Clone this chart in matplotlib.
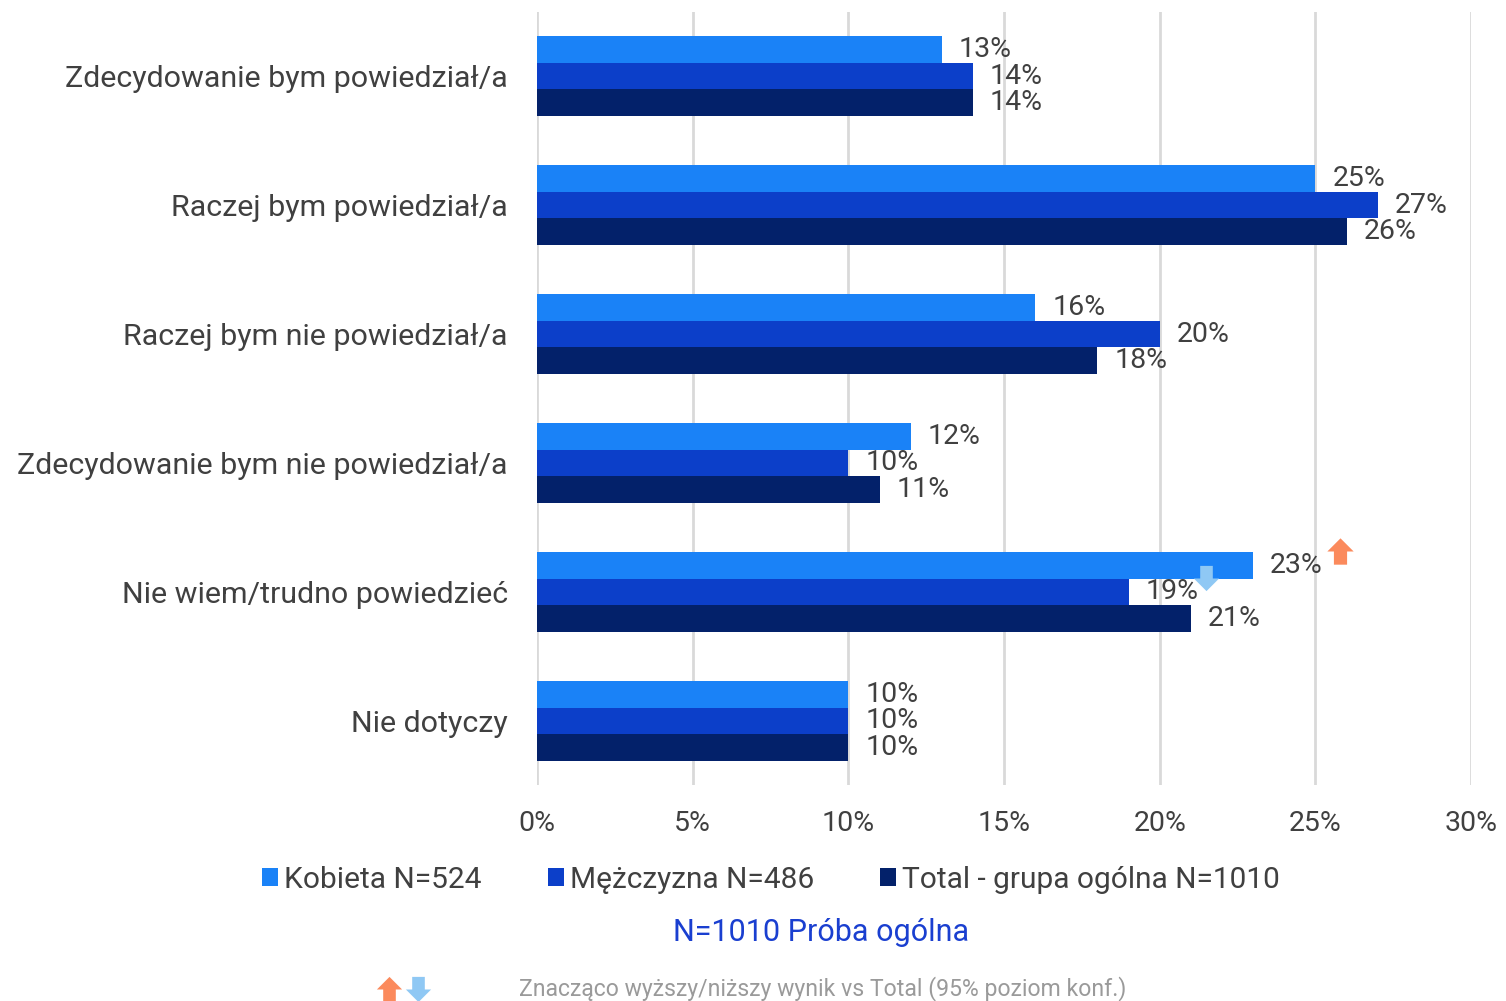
import matplotlib.pyplot as plt
from matplotlib.path import Path
from matplotlib.ticker import FuncFormatter

plt.rcParams["font.family"] = ["Roboto", "DejaVu Sans"]

categories = [
    "Zdecydowanie bym powiedział/a",
    "Raczej bym powiedział/a",
    "Raczej bym nie powiedział/a",
    "Zdecydowanie bym nie powiedział/a",
    "Nie wiem/trudno powiedzieć",
    "Nie dotyczy",
]
series_names = ["Kobieta N=524", "Mężczyzna N=486", "Total - grupa ogólna N=1010"]
kobieta = [13, 25, 16, 12, 23, 10]
mezczyzna = [14, 27, 20, 10, 19, 10]
total = [14, 26, 18, 11, 21, 10]
# (category index, series index, direction) of significant differences vs Total
significance = [(4, 0, "up"), (4, 1, "down")]

colors = ["#1a82f7", "#0c3fc9", "#03216a"]
arrow_colors = {"up": "#fb8a5c", "down": "#8fc8f4"}
label_gray = "#404040"

UP_ARROW = Path(
    [(-0.25, -0.5), (0.25, -0.5), (0.25, 0.0), (0.5, 0.0), (0.0, 0.5),
     (-0.5, 0.0), (-0.25, 0.0), (-0.25, -0.5)],
    [Path.MOVETO] + [Path.LINETO] * 6 + [Path.CLOSEPOLY],
)
DOWN_ARROW = Path(
    [(x, -y) for x, y in UP_ARROW.vertices],
    UP_ARROW.codes,
)

fig = plt.figure(figsize=(15.06, 10.01), dpi=100)
ax = fig.add_axes([0.3566, 0.2153, 0.6202, 0.7732])

values = [kobieta, mezczyzna, total]
bar_h = 0.209
ypos = list(range(len(categories)))
for i, (name, vals) in enumerate(zip(series_names, values)):
    ys = [y + (i - 1) * bar_h for y in ypos]
    ax.barh(ys, vals, height=bar_h, color=colors[i], label=name, zorder=3)
    for y, v in zip(ys, vals):
        ax.text(v + 0.55, y, f"{v}%", va="center", ha="left",
                fontsize=20.5, color=label_gray, zorder=4)

for cat, s, direction in significance:
    v = values[s][cat]
    y = cat + (s - 1) * bar_h
    if direction == "up":
        ax.scatter([v + 2.8], [y - 0.11], marker=UP_ARROW, s=360,
                   color=arrow_colors["up"], zorder=5, linewidths=0)
    else:
        ax.scatter([v + 2.5], [y - 0.11], marker=DOWN_ARROW, s=330,
                   color=arrow_colors["down"], zorder=5, linewidths=0)

ax.set_xlim(0, 30)
ax.set_ylim(len(categories) - 0.5, -0.5)
ax.set_xticks(range(0, 31, 5))
ax.xaxis.set_major_formatter(FuncFormatter(lambda x, _: f"{int(x)}%"))
ax.set_yticks(ypos)
ax.set_yticklabels(categories, fontsize=21.9, color="#404040")
ax.tick_params(axis="x", labelsize=20.5, colors="#404040", length=0, pad=18)
ax.tick_params(axis="y", length=0, pad=21)
ax.grid(axis="x", color="#d9d9d9", linewidth=2, zorder=0)
for spine in ax.spines.values():
    spine.set_visible(False)

fig.legend(loc="center", bbox_to_anchor=(0.512, 0.121), ncol=3, frameon=False,
           fontsize=21.5, handlelength=0.55, handleheight=0.55, handletextpad=0.2,
           columnspacing=2.2, labelcolor="#404040")

fig.text(0.545, 0.068, "N=1010 Próba ogólna", ha="center", va="center",
         fontsize=22, color="#1a3fd0")
fig.text(0.3445, 0.012, "Znacząco wyższy/niższy wynik vs Total (95% poziom konf.)",
         ha="left", va="center", fontsize=16.6, color="#9a9a9a")
# footnote arrows
ax_f = fig.add_axes([0.24, 0.0, 0.06, 0.03])
ax_f.set_xlim(0, 1)
ax_f.set_ylim(0, 1)
ax_f.axis("off")
ax_f.scatter([0.3], [0.4], marker=UP_ARROW, s=330, color=arrow_colors["up"], linewidths=0)
ax_f.scatter([0.63], [0.4], marker=DOWN_ARROW, s=330, color=arrow_colors["down"], linewidths=0)

fig.savefig("out.png", dpi=100)
